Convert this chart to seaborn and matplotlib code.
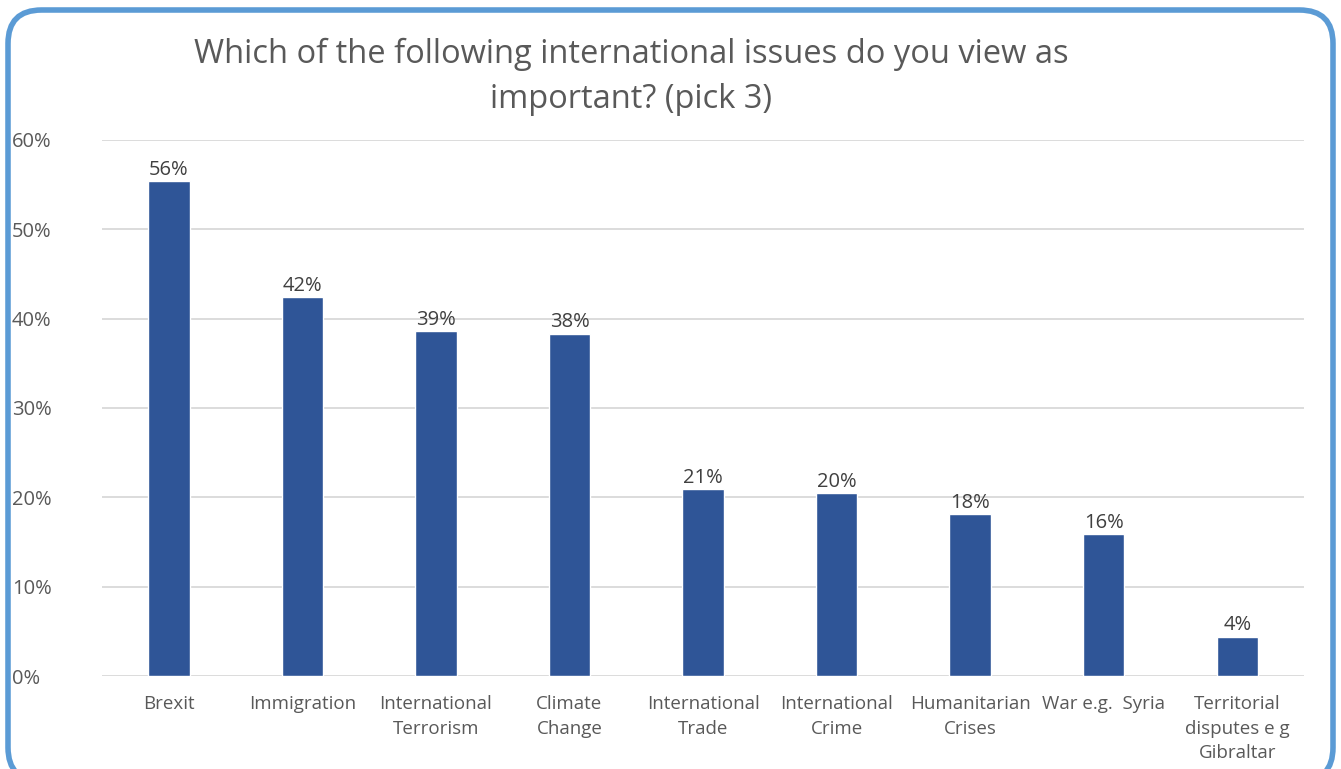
import matplotlib
matplotlib.use("Agg")
from matplotlib import pyplot as plt
from matplotlib.patches import FancyBboxPatch
import seaborn as sns
import pandas as pd

# data
issues = ["Brexit", "Immigration", "International\nTerrorism", "Climate\nChange",
          "International\nTrade", "International\nCrime", "Humanitarian\nCrises",
          "War e.g.  Syria", "Territorial\ndisputes e g\nGibraltar"]
share = [55.4, 42.4, 38.6, 38.3, 20.9, 20.5, 18.1, 15.9, 4.4]
labels = ["56%", "42%", "39%", "38%", "21%", "20%", "18%", "16%", "4%"]
yticks = [0, 10, 20, 30, 40, 50, 60]

df = pd.DataFrame({"issue": issues, "share": share})

sns.set_style("white")
plt.rcParams["font.family"] = ["Open Sans", "DejaVu Sans"]
text_col = "#595959"

fig = plt.figure(figsize=(13.41, 7.69), dpi=100)
ax = fig.add_axes([0.0761, 0.1209, 0.8963, 0.6971])

sns.barplot(data=df, x="issue", y="share", color="#2F5597", saturation=1,
            width=0.31, ax=ax)

for i, (v, lab) in enumerate(zip(share, labels)):
    ax.text(i, v + 0.15, lab, ha="center", va="bottom", fontsize=14.5, color="#404040")

ax.set_ylim(0, 60)
ax.set_xlim(-0.5, len(issues) - 0.5)
ax.set_yticks(yticks)
ax.set_yticklabels([f"{t}%" for t in yticks], ha="left")
ax.yaxis.grid(True, color="#D9D9D9", linewidth=1.3)
ax.set_axisbelow(True)
for s in ax.spines.values():
    s.set_visible(False)
ax.tick_params(axis="y", length=0, pad=65, labelsize=14.5, labelcolor=text_col)
ax.tick_params(axis="x", length=0, pad=14, labelsize=13.5, labelcolor=text_col)
for t in ax.get_xticklabels():
    t.set_linespacing(1.45)
ax.set_xlabel("")
ax.set_ylabel("")

fig.text(0.4705, 0.9, "Which of the following international issues do you view as\nimportant? (pick 3)",
         ha="center", va="center", fontsize=23.5, color=text_col, linespacing=1.45)

border = FancyBboxPatch((8 / 1341, -12 / 769), 1325 / 1341, 771 / 769,
                        boxstyle="round,pad=0,rounding_size=0.025",
                        transform=fig.transFigure, facecolor="none",
                        edgecolor="#5B9BD5", linewidth=4, mutation_aspect=1341 / 769)
fig.patches.append(border)

fig.savefig("out.png", dpi=100)
